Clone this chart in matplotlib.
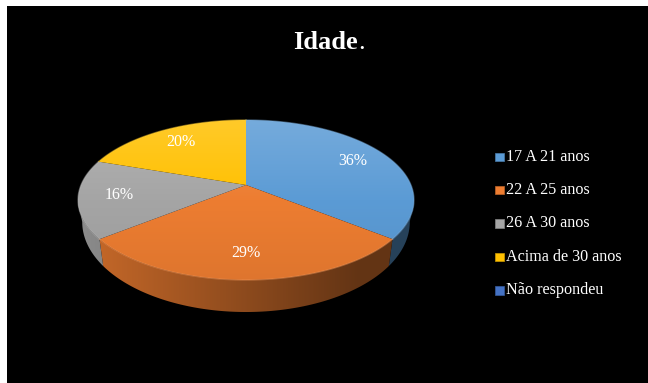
import numpy as np
import matplotlib
matplotlib.use('Agg')
import matplotlib.pyplot as plt
from matplotlib.colors import to_rgb
from matplotlib.patches import Polygon, Rectangle

plt.rcParams['font.family'] = ['Liberation Serif', 'DejaVu Serif']

categorias = ['17 A 21 anos', '22 A 25 anos', '26 A 30 anos', 'Acima de 30 anos', 'Não respondeu']
valores = [36, 29, 16, 20, 0]
cores = ['#5b9bd5', '#ed7d31', '#a5a5a5', '#ffc000', '#4472c4']

fig = plt.figure(figsize=(6.48, 3.83), dpi=100, facecolor='white')
ax = fig.add_axes([7 / 648, 0, 641 / 648, 377 / 383])
ax.set_facecolor('black')
ax.set_xticks([])
ax.set_yticks([])
for s in ax.spines.values():
    s.set_visible(False)


# perspective view of the pie disc, theta clockwise from the top
def topo(theta, r=1.0):
    u = r * np.sin(theta)
    v = -r * np.cos(theta)
    w = 1 - 0.1875 * v
    return 246 + 165 * u / w, 185 + 77.2 * v / w


def base(theta):
    x, y = topo(theta)
    return 246 + (x - 246) * 0.975, 200 + (y - 200) * 1.125 + 22


def mistura(c, claro):
    c = np.array(to_rgb(c))
    return c + (1 - c) * claro if claro > 0 else c * (1 + claro)


total = sum(valores)
limites = np.concatenate([[0], np.cumsum(valores) / total * 2 * np.pi])
sil_a, sil_b = np.radians(100.8), np.radians(259.2)

# side wall, darker towards the right
for i, cor in enumerate(cores):
    a, b = max(limites[i], sil_a), min(limites[i + 1], sil_b)
    if b <= a:
        continue
    t = np.linspace(a, b, 120)
    xt, yt = topo(t)
    xb, yb = base(t)
    pts = np.column_stack([np.r_[xt, xb[::-1]], np.r_[yt, yb[::-1]]])
    poly = Polygon(pts, closed=True, fc='none', ec='none')
    ax.add_patch(poly)
    x0, x1 = pts[:, 0].min(), pts[:, 0].max()
    y0, y1 = pts[:, 1].min(), pts[:, 1].max()
    xs = np.linspace(x0, x1, 200)
    sombra = np.interp(xs, [78, 358, 414], [0.85, 0.42, 0.42])[None, :, None]
    img = sombra * np.array(to_rgb(cor))[None, None, :]
    im = ax.imshow(img, extent=(x0, x1, y1, y0), aspect='auto', zorder=2)
    im.set_clip_path(poly)
    poly.set_zorder(2)

# top face with a vertical gradient per slice
for i, cor in enumerate(cores):
    a, b = limites[i], limites[i + 1]
    if b <= a:
        continue
    t = np.linspace(a, b, 160)
    xt, yt = topo(t)
    pts = np.column_stack([np.r_[246, xt], np.r_[185, yt]])
    poly = Polygon(pts, closed=True, fc='none', ec='none')
    ax.add_patch(poly)
    ys = np.linspace(120, 280, 200)
    fator = np.interp(ys, [120, 200, 280], [0.16, 0.0, -0.06])
    img = np.array([mistura(cor, f) for f in fator])[:, None, :]
    im = ax.imshow(img, extent=(78, 414, 280, 120), aspect='auto', zorder=3)
    im.set_clip_path(poly)
    # lighter bevel around the rim
    ax.plot(xt, yt, color=mistura(cor, 0.2), lw=1.0, alpha=0.45, zorder=4)

# percentage labels
for i, v in enumerate(valores):
    if v == 0:
        continue
    meio = (limites[i] + limites[i + 1]) / 2
    x, y = topo(meio, 0.76)
    ax.text(x, y, '%d%%' % v, color='white', fontsize=11.5, ha='center', va='center', zorder=5)

# title, the full stop is not bold
ax.text(358, 42.5, 'Idade', color='white', fontsize=19, fontweight='bold', ha='right', va='center')
ax.text(358, 42.5, '.', color='white', fontsize=19, ha='left', va='center')

# legend
for i, (nome, cor) in enumerate(zip(categorias, cores)):
    y = 156.5 + i * 33.4
    ax.add_patch(Rectangle((495, y - 4), 8.5, 8.5, fc=cor, ec=mistura(cor, -0.2), lw=0.5))
    ax.text(506, y, nome, color='white', fontsize=11.6, ha='left', va='center')

ax.set_xlim(7, 648)
ax.set_ylim(383, 6)
fig.savefig('out.png', dpi=100, facecolor=fig.get_facecolor())
